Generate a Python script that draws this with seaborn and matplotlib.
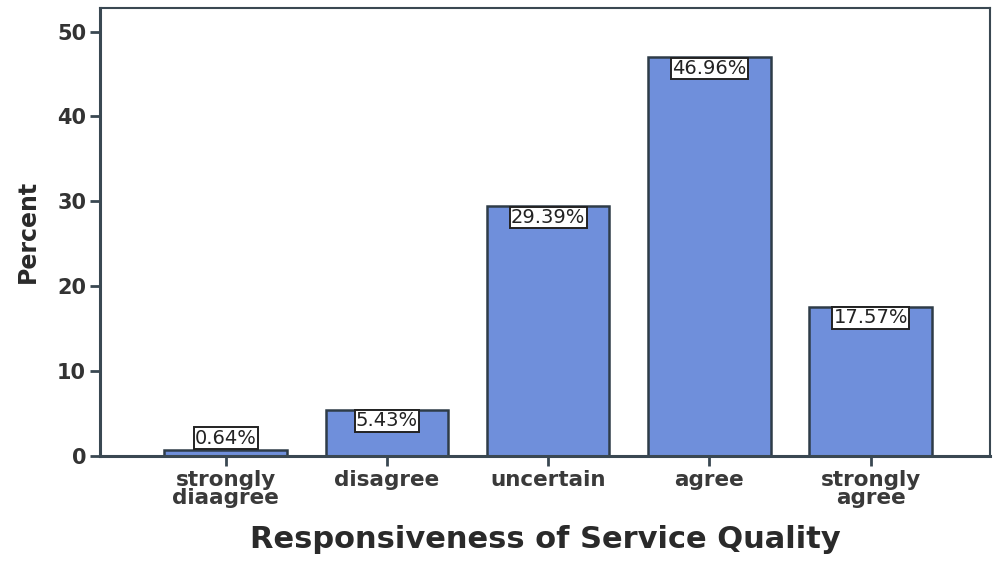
import matplotlib
matplotlib.use("Agg")
import matplotlib.pyplot as plt
import seaborn as sns
import pandas as pd

categories = ["strongly\ndiaagree", "disagree", "uncertain", "agree", "strongly\nagree"]
percent = [0.64, 5.43, 29.39, 46.96, 17.57]
y_ticks = [0, 10, 20, 30, 40, 50]
x_title = "Responsiveness of Service Quality"
y_title = "Percent"

sns.set_style("ticks")
plt.rcParams["font.family"] = ["DejaVu Sans"]

df = pd.DataFrame({"category": categories, "percent": percent})

fig = plt.figure(figsize=(10, 5.62), dpi=100)
ax = fig.add_axes([0.100, 0.189, 0.890, 0.797])

bar_color = "#6F8FDB"
edge_color = "#2E3C48"
sns.barplot(data=df, x="category", y="percent", color=bar_color,
            edgecolor=edge_color, linewidth=1.8, width=0.76,
            saturation=1, ax=ax)

ax.set_xlim(-0.78, 4.74)
ax.set_ylim(0, 52.8)
ax.set_yticks(y_ticks)
ax.set_yticklabels([str(t) for t in y_ticks], fontsize=15, fontweight="bold",
                   color="#333333")
ax.set_xticklabels(categories, fontsize=15.5, fontweight="semibold",
                   color="#3A3A3A", linespacing=0.9)

for side in ["left", "bottom"]:
    ax.spines[side].set_linewidth(2.2)
    ax.spines[side].set_color("#3A4852")
for side in ["top", "right"]:
    ax.spines[side].set_visible(True)
    ax.spines[side].set_linewidth(1.5)
    ax.spines[side].set_color("#3A4852")

ax.tick_params(axis="both", direction="out", length=7, width=2,
               color="#3A4852", pad=3)

ax.set_xlabel(x_title, fontsize=22, fontweight="bold", color="#2A2A2A",
              labelpad=12)
ax.set_ylabel(y_title, fontsize=17, fontweight="bold", color="#2A2A2A",
              labelpad=12)

# value labels in white boxes at the top of each bar
for i, v in enumerate(percent):
    y = max(v, 3.4) - 0.2
    ax.text(i, y, f"{v:.2f}%", ha="center", va="top", fontsize=14,
            color="#222222",
            bbox=dict(boxstyle="square,pad=0.06", facecolor="white",
                      edgecolor="#222222", linewidth=1.4))

fig.savefig("out.png", dpi=100, facecolor="white")
